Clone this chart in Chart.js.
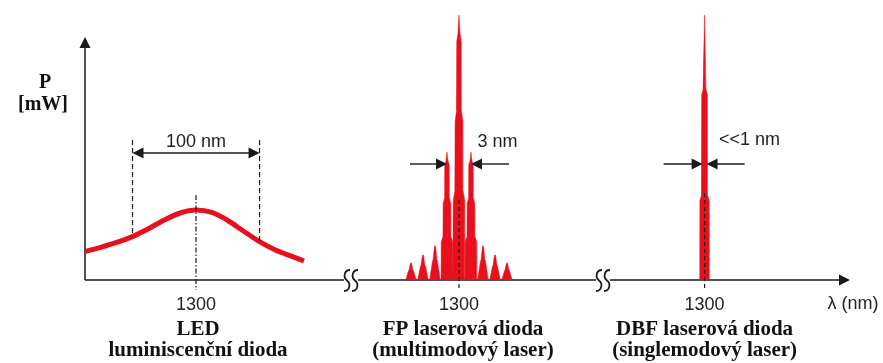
<!DOCTYPE html>
<html>
<head>
<meta charset="utf-8">
<script src="https://cdn.jsdelivr.net/npm/chart.js@4.4.1/dist/chart.umd.min.js"></script>
<style>
  html, body { margin: 0; padding: 0; background: #fff; }
  #wrap { width: 883px; height: 363px; }
</style>
</head>
<body>
<div id="wrap"><canvas id="spektra"></canvas></div>
<script>
// LED - wavelength [nm] / power [relative]
const ledLambda = [1212.5, 1225, 1237.5, 1250, 1262.5, 1275, 1287.5, 1300, 1312.5, 1325, 1337.5, 1350, 1362.5, 1375, 1385];
const ledPower  = [10.6, 12.2, 14.0, 16.2, 19.1, 22.4, 25.0, 26.1, 25.2, 22.2, 18.2, 14.3, 11.2, 8.9, 7.1];

// FP laser - modes
const fpModes = [1294, 1295.5, 1297, 1298.5, 1300, 1301.5, 1303, 1304.5, 1306];
const fpPower = [6.3, 9.3, 12.7, 47.8, 98.9, 47.8, 12.7, 9.3, 6.3];

// DBF laser - one mode
const dbfModes = [1300];
const dbfPower = [98.9];

const tickLabels = ['1300', '1300', '1300'];
const segNames = [
  ['LED', 'luminiscenční dioda'],
  ['FP laserová dioda', '(multimodový laser)'],
  ['DBF laserová dioda', '(singlemodový laser)']
];
const widthLabels = ['100 nm', '3 nm', '<<1 nm'];

// axis segments (between the breaks)
const segments = [
  { id: 'xLed', min: 1212.6, max: 1422, weight: 266 },
  { id: 'xFp', min: 1286.5, max: 1318, weight: 252 },
  { id: 'xDbf', min: 1287.25, max: 1318.25, weight: 247 }
];

// shape of one mode: [offset nm, fraction of peak]
const smallMode = [[-0.66, 0], [-0.32, 0.55], [-0.24, 0.6], [-0.07, 1], [0.07, 1], [0.24, 0.6], [0.32, 0.55], [0.66, 0]];
const bigMode = [[-0.74, 0], [-0.72, 0.3], [-0.5, 0.34], [-0.48, 0.6], [-0.3, 0.64], [-0.28, 0.9],
  [-0.13, 0.93], [0, 1], [0.13, 0.93], [0.28, 0.9], [0.3, 0.64], [0.48, 0.6], [0.5, 0.34], [0.72, 0.3], [0.74, 0]];
const dbfMode = [[-0.62, 0], [-0.6, 0.3], [-0.38, 0.32], [-0.36, 0.7], [-0.18, 0.72], [0, 1],
  [0.18, 0.72], [0.36, 0.7], [0.38, 0.32], [0.6, 0.3], [0.62, 0]];

const RED = '#e8101c';
const INK = '#1a1a1a';

function modePoints(centers, peaks, shapeFor) {
  const pts = [];
  centers.forEach((c, i) => {
    shapeFor(peaks[i]).forEach(([dx, f]) => pts.push({ x: c + dx, y: peaks[i] * f }));
  });
  return pts;
}

function xAxis(i) {
  const s = segments[i];
  return {
    type: 'linear',
    position: 'bottom',
    stack: 'lambda',
    stackWeight: s.weight,
    min: s.min,
    max: s.max,
    grid: { display: false, drawTicks: false },
    border: { display: false },
    ticks: {
      color: '#222',
      font: { family: 'Liberation Sans', size: 18 },
      padding: 14,
      maxRotation: 0,
      autoSkip: false,
      callback: () => tickLabels[i]
    },
    afterBuildTicks: sc => { sc.ticks = [{ value: 1300 }]; },
    afterFit: sc => { sc.height = 83; }
  };
}

function head(ctx, x, y, dx, dy) {
  // filled arrow head, tip at x,y pointing along dx,dy
  const len = 11, half = 5.5;
  const px = -dy, py = dx;
  ctx.beginPath();
  ctx.moveTo(x, y);
  ctx.lineTo(x - dx * len + px * half, y - dy * len + py * half);
  ctx.lineTo(x - dx * len - px * half, y - dy * len - py * half);
  ctx.closePath();
  ctx.fill();
}

function seg(ctx, x1, y1, x2, y2) {
  ctx.beginPath();
  ctx.moveTo(x1, y1);
  ctx.lineTo(x2, y2);
  ctx.stroke();
}

function wave(ctx, x, top, bottom) {
  const mid = (top + bottom) / 2;
  ctx.beginPath();
  ctx.moveTo(x + 3, top);
  ctx.bezierCurveTo(x - 3, top, x - 4, mid - 3, x, mid);
  ctx.bezierCurveTo(x + 4, mid + 3, x + 3, bottom, x - 3, bottom);
  ctx.stroke();
}

const axesPlugin = {
  id: 'axesPlugin',
  beforeDatasetsDraw(chart) {
    const { ctx, chartArea: a } = chart;
    const base = chart.scales.y.getPixelForValue(0);
    ctx.save();
    ctx.strokeStyle = INK;
    ctx.fillStyle = INK;
    ctx.lineWidth = 1.5;
    seg(ctx, a.left, base, a.left, a.top + 36);
    head(ctx, a.left, a.top + 25, 0, -1);
    seg(ctx, a.left, base, a.right - 10, base);
    head(ctx, a.right, base, 1, 0);
    ctx.restore();
  },
  afterDatasetsDraw(chart) {
    const { ctx } = chart;
    const sc = chart.scales;
    const L = v => sc.xLed.getPixelForValue(v);
    const F = v => sc.xFp.getPixelForValue(v);
    const D = v => sc.xDbf.getPixelForValue(v);
    const Y = v => sc.y.getPixelForValue(v);
    const base = Y(0);
    ctx.save();
    ctx.strokeStyle = INK;
    ctx.fillStyle = INK;

    // breaks in the axis
    ctx.lineWidth = 1.8;
    [sc.xLed.right, sc.xFp.right].forEach(bx => {
      ctx.fillStyle = '#fff';
      ctx.fillRect(bx - 7, base - 2, 14, 4);
      ctx.fillStyle = INK;
      wave(ctx, bx - 4, base - 10, base + 11);
      wave(ctx, bx + 4, base - 10, base + 11);
    });

    // centre lines at 1300
    ctx.lineWidth = 1.2;
    ctx.setLineDash([5, 2, 1.5, 2]);
    seg(ctx, L(1300), 195, L(1300), base + 10);
    ctx.setLineDash([4, 3]);
    seg(ctx, F(1300), 200, F(1300), base + 11);
    seg(ctx, D(1300), 193, D(1300), base + 10);

    // LED width markers
    const i1 = ledLambda.indexOf(1250), i2 = ledLambda.indexOf(1350);
    ctx.setLineDash([5, 3]);
    seg(ctx, L(1250), 140, L(1250), Y(ledPower[i1]));
    seg(ctx, L(1350), 140, L(1350), Y(ledPower[i2]));
    ctx.setLineDash([]);
    ctx.lineWidth = 1.4;
    seg(ctx, L(1250) + 6, 153, L(1350) - 6, 153);
    head(ctx, L(1250), 153, -1, 0);
    head(ctx, L(1350), 153, 1, 0);

    // FP width arrows
    seg(ctx, F(1298.5) - 37, 164, F(1298.5) - 6, 164);
    head(ctx, F(1298.5), 164, 1, 0);
    seg(ctx, F(1301.5) + 6, 164, F(1301.5) + 38, 164);
    head(ctx, F(1301.5), 164, -1, 0);

    // DBF width arrows
    seg(ctx, D(1299.75) - 39, 164, D(1299.75) - 6, 164);
    head(ctx, D(1299.75), 164, 1, 0);
    seg(ctx, D(1300.25) + 6, 164, D(1300.25) + 38, 164);
    head(ctx, D(1300.25), 164, -1, 0);

    // texts
    ctx.fillStyle = '#222';
    ctx.textBaseline = 'middle';
    ctx.font = '18px "Liberation Sans"';
    ctx.textAlign = 'center';
    ctx.fillText(widthLabels[0], (L(1250) + L(1350)) / 2, 142);
    ctx.textAlign = 'left';
    ctx.fillText(widthLabels[1], F(1302.3), 142);
    ctx.fillText(widthLabels[2], D(1301.8), 140);
    ctx.textAlign = 'center';
    ctx.fillText('λ (nm)', 853, 304);

    ctx.fillStyle = '#111';
    ctx.font = 'bold 20px "Liberation Serif"';
    ctx.fillText('P', 45, 83);
    ctx.fillText('[mW]', 43, 105);

    ctx.font = 'bold 21px "Liberation Serif"';
    const centers = [L(1300) + 2, F(1300) + 4, D(1300)];
    segNames.forEach((n, i) => {
      ctx.fillText(n[0], centers[i], 330);
      ctx.fillText(n[1], centers[i], 351);
    });
    ctx.restore();
  }
};

new Chart(document.getElementById('spektra'), {
  type: 'line',
  data: {
    datasets: [{
      label: 'LED',
      xAxisID: 'xLed',
      data: ledLambda.map((x, i) => ({ x, y: ledPower[i] })),
      borderColor: RED,
      borderWidth: 5,
      pointRadius: 0,
      cubicInterpolationMode: 'monotone',
      fill: false
    }, {
      label: 'FP',
      xAxisID: 'xFp',
      data: modePoints(fpModes, fpPower, p => (p > 30 ? bigMode : smallMode)),
      borderColor: RED,
      backgroundColor: RED,
      borderWidth: 0.5,
      pointRadius: 0,
      tension: 0.0001,
      fill: 'origin'
    }, {
      label: 'DBF',
      xAxisID: 'xDbf',
      data: modePoints(dbfModes, dbfPower, () => dbfMode),
      borderColor: RED,
      backgroundColor: RED,
      borderWidth: 0.5,
      pointRadius: 0,
      tension: 0.0001,
      fill: 'origin'
    }]
  },
  options: {
    responsive: true,
    maintainAspectRatio: false,
    animation: false,
    layout: { padding: { left: 85, right: 33, top: 12, bottom: 0 } },
    plugins: { legend: { display: false }, tooltip: { enabled: false } },
    scales: {
      xLed: xAxis(0),
      xFp: xAxis(1),
      xDbf: xAxis(2),
      y: { type: 'linear', min: 0, max: 100, display: false }
    }
  },
  plugins: [axesPlugin]
});
</script>
</body>
</html>
